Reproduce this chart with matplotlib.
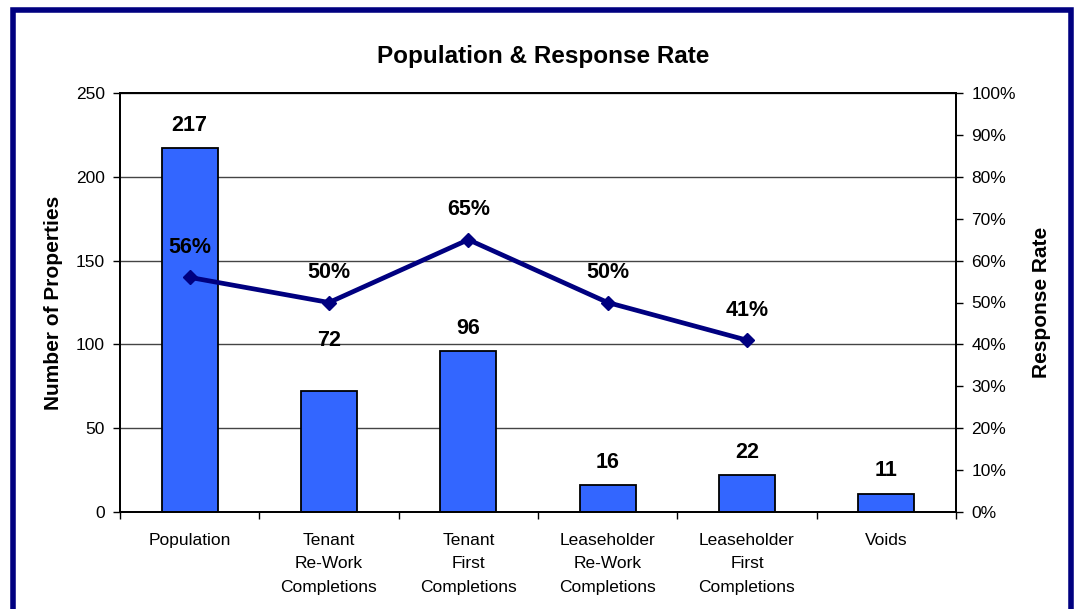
import matplotlib
matplotlib.use('Agg')
import matplotlib.pyplot as plt
from matplotlib.patches import Rectangle
from matplotlib.ticker import FuncFormatter

plt.rcParams['font.family'] = ['Liberation Sans', 'DejaVu Sans']

categories = ['Population', 'Tenant\nRe-Work\nCompletions', 'Tenant\nFirst\nCompletions',
              'Leaseholder\nRe-Work\nCompletions', 'Leaseholder\nFirst\nCompletions', 'Voids']
properties = [217, 72, 96, 16, 22, 11]
response_rate = [0.56, 0.50, 0.65, 0.50, 0.41]

navy = '#000080'
bar_blue = '#3366FF'

fig = plt.figure(figsize=(10.74, 6.09), dpi=100)
ax = fig.add_axes([120 / 1074, 97 / 609, 836 / 1074, 419 / 609])
ax2 = ax.twinx()

x = list(range(len(categories)))
ax.bar(x, properties, width=0.4, color=bar_blue, edgecolor='black', linewidth=1.3, zorder=3)
ax.set_xlim(-0.5, len(categories) - 0.5)
ax.set_ylim(0, 250)
ax.set_yticks(range(0, 251, 50))
ax.yaxis.grid(True, color='#444444', linewidth=1.0, zorder=0)
ax.set_axisbelow(True)

# category boundaries get the tick marks, labels sit in the middle
ax.set_xticks([i - 0.5 for i in range(len(categories) + 1)])
ax.set_xticklabels([])
ax.set_xticks(x, minor=True)
ax.set_xticklabels(categories, minor=True, fontsize=12.5, linespacing=1.7)
ax.tick_params(axis='x', which='major', length=5, width=1, direction='out')
ax.tick_params(axis='x', which='minor', length=0, pad=15)
ax.tick_params(axis='y', length=5, width=1, labelsize=12.5, pad=6)

for s in ax.spines.values():
    s.set_linewidth(1.3)

# label offsets in points above the bar top (72 is lifted clear of the line)
bar_offsets = [16.5, 36.5, 16.5, 16.5, 16.5, 16.5]
for xi, v, off in zip(x, properties, bar_offsets):
    ax.annotate(str(v), (xi, v), xytext=(0, off), textcoords='offset points',
                ha='center', va='center', fontsize=15.5, fontweight='bold')

xr = x[:len(response_rate)]
ax2.plot(xr, response_rate, color=navy, linewidth=3.4, marker='D', markersize=7,
         zorder=5, clip_on=False)
ax2.set_ylim(0, 1)
ax2.set_yticks([i / 10 for i in range(11)])
ax2.yaxis.set_major_formatter(FuncFormatter(lambda v, p: f'{round(v * 100)}%'))
ax2.tick_params(axis='y', length=5, width=1, labelsize=12.5, pad=6)
for s in ax2.spines.values():
    s.set_linewidth(1.3)
for xi, r in zip(xr, response_rate):
    ax2.annotate(f'{round(r * 100)}%', (xi, r), xytext=(0, 21.5), textcoords='offset points',
                 ha='center', va='center', fontsize=15.5, fontweight='bold')

ax.set_ylabel('Number of Properties', fontsize=15, fontweight='bold', labelpad=9)
ax2.set_ylabel('Response Rate', fontsize=15, fontweight='bold', labelpad=12)

fig.text(543 / 1074, 1 - 57 / 609, 'Population & Response Rate', ha='center', va='center',
         fontsize=17.5, fontweight='bold')

# navy frame round the whole chart
fig.patches.append(Rectangle((12.5 / 1074, -0.05), (1071 - 12.5) / 1074, 1.05 - 9.5 / 609,
                             transform=fig.transFigure, fill=False, edgecolor=navy,
                             linewidth=4.0, clip_on=False))

fig.savefig('out.png', dpi=100)
